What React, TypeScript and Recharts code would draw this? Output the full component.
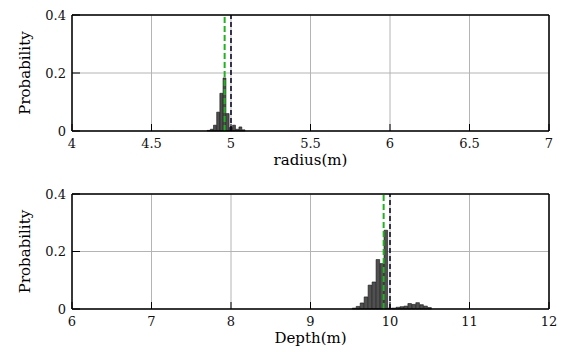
import React from "react";
import {
  BarChart,
  Bar,
  XAxis,
  YAxis,
  CartesianGrid,
  ReferenceLine,
  Label,
} from "recharts";

// radius histogram (bin centres, m) and probabilities
const radiusBins = [4.86, 4.88, 4.9, 4.92, 4.94, 4.96, 4.98, 5.0, 5.02, 5.04, 5.06, 5.08];
const radiusProb = [0.002, 0.006, 0.02, 0.065, 0.13, 0.183, 0.06, 0.012, 0.02, 0.006, 0.014, 0.004];
const radiusTicks = [4, 4.5, 5, 5.5, 6, 6.5, 7];
const radiusTrue = 5.0;
const radiusEst = 4.96;

// depth histogram
const depthBins = [
  9.55, 9.6, 9.65, 9.7, 9.75, 9.8, 9.85, 9.9, 9.95, 10.0,
  10.05, 10.1, 10.15, 10.2, 10.25, 10.3, 10.35, 10.4, 10.45, 10.5,
];
const depthProb = [
  0.003, 0.009, 0.021, 0.042, 0.083, 0.094, 0.172, 0.158, 0.274, 0.003,
  0.003, 0.006, 0.008, 0.01, 0.019, 0.016, 0.022, 0.015, 0.01, 0.005,
];
const depthTicks = [6, 7, 8, 9, 10, 11, 12];
const depthTrue = 10.0;
const depthEst = 9.92;

const probTicks = [0, 0.2, 0.4];

const FONT = "DejaVu Serif";
const W = 561;

interface PanelProps {
  bins: number[];
  probs: number[];
  xTicks: number[];
  xLabel: string;
  truth: number;
  estimate: number;
  binWidth: number;
  topH: number;
  bottomH: number;
  height: number;
}

function Panel({ bins, probs, xTicks, xLabel, truth, estimate, binWidth, topH, bottomH, height }: PanelProps) {
  const data = bins.map((x, i) => ({ x, p: probs[i] }));
  const xDomain: [number, number] = [xTicks[0], xTicks[xTicks.length - 1]];
  const plotW = W - 72 - 12;
  const barPx = (binWidth / (xDomain[1] - xDomain[0])) * plotW;
  const tickStyle = { fontFamily: FONT, fontSize: 13, fill: "#111" };

  return (
    <BarChart
      width={W}
      height={height}
      data={data}
      margin={{ top: 0, right: 0, bottom: 0, left: 0 }}
      barCategoryGap={0}
      barGap={0}
    >
      <CartesianGrid stroke="#b4b4b4" strokeWidth={1} />
      <XAxis
        dataKey="x"
        type="number"
        domain={xDomain}
        ticks={xTicks}
        allowDataOverflow
        height={bottomH}
        axisLine={{ stroke: "#000", strokeWidth: 1.5 }}
        tickLine={{ stroke: "#000" }}
        tickSize={-7}
        tickMargin={15}
        tick={tickStyle}
        interval={0}
      >
        <Label
          value={xLabel}
          position="insideBottom"
          offset={bottomH - 34}
          style={{ fontFamily: FONT, fontSize: 15, fill: "#000" }}
        />
      </XAxis>
      <XAxis
        xAxisId="top"
        orientation="top"
        type="number"
        domain={xDomain}
        ticks={xTicks}
        height={topH}
        axisLine={{ stroke: "#000", strokeWidth: 1.5 }}
        tickLine={{ stroke: "#000" }}
        tickSize={-7}
        tick={false}
        interval={0}
      />
      <YAxis
        type="number"
        domain={[0, 0.4]}
        ticks={probTicks}
        width={72}
        axisLine={{ stroke: "#000", strokeWidth: 1.5 }}
        tickLine={{ stroke: "#000" }}
        tickSize={-8}
        tickMargin={14}
        tick={tickStyle}
        interval={0}
      >
        <Label
          content={({ viewBox }: any) => (
            <text
              transform={`translate(${viewBox.x + 25}, ${viewBox.y + viewBox.height / 2}) rotate(-90)`}
              textAnchor="middle"
              dominantBaseline="central"
              style={{ fontFamily: FONT, fontSize: 15, fill: "#000" }}
            >
              Probability
            </text>
          )}
        />
      </YAxis>
      <YAxis
        yAxisId="right"
        orientation="right"
        type="number"
        domain={[0, 0.4]}
        ticks={probTicks}
        width={12}
        axisLine={{ stroke: "#000", strokeWidth: 1.5 }}
        tickLine={{ stroke: "#000" }}
        tickSize={-8}
        tick={false}
        interval={0}
      />
      <Bar
        dataKey="p"
        fill="#505050"
        stroke="#111"
        strokeWidth={0.6}
        barSize={barPx}
        isAnimationActive={false}
      />
      <ReferenceLine x={estimate} stroke="#1db51d" strokeWidth={2} strokeDasharray="6 3" />
      <ReferenceLine x={truth} stroke="#0a0a28" strokeWidth={1.6} strokeDasharray="5 3" />
    </BarChart>
  );
}

export default function App() {
  return (
    <div style={{ position: "absolute", left: 0, top: 0, width: W, height: 352, background: "#fff" }}>
      <Panel
        bins={radiusBins}
        probs={radiusProb}
        xTicks={radiusTicks}
        xLabel="radius(m)"
        truth={radiusTrue}
        estimate={radiusEst}
        binWidth={0.02}
        topH={15}
        bottomH={45}
        height={176}
      />
      <Panel
        bins={depthBins}
        probs={depthProb}
        xTicks={depthTicks}
        xLabel="Depth(m)"
        truth={depthTrue}
        estimate={depthEst}
        binWidth={0.05}
        topH={18}
        bottomH={43}
        height={176}
      />
    </div>
  );
}
